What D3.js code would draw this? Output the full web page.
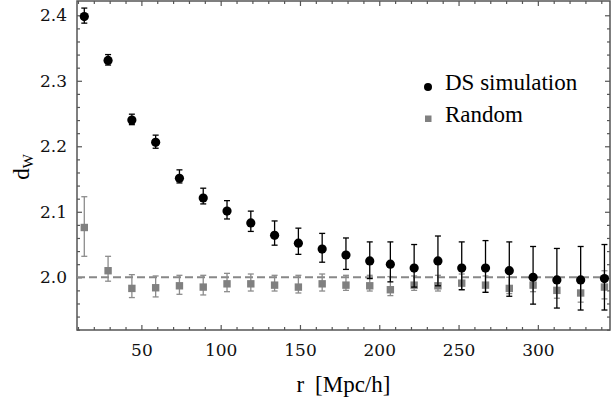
<!DOCTYPE html>
<html>
<head>
<meta charset="utf-8">
<script src="https://cdn.jsdelivr.net/npm/d3@7"></script>
<style>
  body { margin: 0; background: #fff; }
  svg { display: block; }
</style>
</head>
<body>
<div id="chart"></div>
<script>
// r values (Mpc/h) of each bin
const rValues = [14, 29, 44, 59, 74, 89, 104, 119, 134, 149, 164, 179, 194, 207, 222, 237, 252, 267, 282, 297, 312, 327, 342]

// DS simulation: value, upper and lower error
const dsValues = [2.398, 2.331, 2.240, 2.206, 2.151, 2.121, 2.101, 2.083, 2.064, 2.052, 2.043, 2.034, 2.025, 2.020, 2.014, 2.025, 2.014, 2.014, 2.010, 2.000, 1.996, 1.996, 1.998]
const dsUpper = [2.411, 2.340, 2.249, 2.217, 2.164, 2.136, 2.117, 2.101, 2.086, 2.075, 2.067, 2.060, 2.054, 2.054, 2.050, 2.063, 2.054, 2.056, 2.054, 2.047, 2.044, 2.047, 2.050]
const dsLower = [2.388, 2.324, 2.233, 2.197, 2.144, 2.112, 2.089, 2.070, 2.049, 2.035, 2.023, 2.012, 1.998, 1.993, 1.985, 1.987, 1.981, 1.977, 1.971, 1.959, 1.953, 1.950, 1.950]

// Random catalogue
const rndValues = [2.076, 2.010, 1.983, 1.984, 1.987, 1.985, 1.990, 1.990, 1.988, 1.985, 1.990, 1.988, 1.987, 1.981, 1.988, 1.987, 1.991, 1.988, 1.983, 1.988, 1.980, 1.976, 1.985]
const rndUpper = [2.123, 2.032, 2.004, 2.002, 2.003, 2.003, 2.006, 2.005, 2.003, 2.003, 2.005, 2.003, 2.003, 2.001, 2.002, 2.003, 2.005, 2.002, 2.000, 2.003, 2.000, 2.000, 2.010]
const rndLower = [2.032, 1.994, 1.969, 1.970, 1.974, 1.973, 1.978, 1.979, 1.979, 1.976, 1.979, 1.980, 1.979, 1.972, 1.980, 1.979, 1.981, 1.977, 1.975, 1.978, 1.968, 1.962, 1.967]

const xTicks = [50, 100, 150, 200, 250, 300]
const yTicks = [2.0, 2.1, 2.2, 2.3, 2.4]
const referenceLevel = 2.0

const legendLabels = ['DS simulation', 'Random']

const dimension = {
    width: 615,
    height: 403,
    left: 77,
    right: 610,
    top: 1,
    bottom: 330
}

const svg = d3.select('#chart')
    .append('svg')
    .attr('width', dimension.width)
    .attr('height', dimension.height)

// scales
const xScale = d3.scaleLinear()
    .domain([9.4, 345.5])
    .range([dimension.left, dimension.right])

const yScale = d3.scaleLinear()
    .domain([1.9195, 2.4218])
    .range([dimension.bottom, dimension.top])

const frameColor = '#555'
const tickFont = "'DejaVu Serif', serif"
const textFont = "'Liberation Serif', 'Times New Roman', serif"

// minor ticks
const xMinor = d3.range(10, 346, 10).filter(v => v % 50 !== 0)
const yMinor = d3.range(1.92, 2.42, 0.02).filter(v => Math.abs(v * 10 - Math.round(v * 10)) > 0.01)

function styleAxis(g) {
    g.select('.domain').remove()
    g.selectAll('.tick line').attr('stroke', frameColor).attr('stroke-width', 1.2)
    g.selectAll('.tick text')
        .attr('fill', '#111')
        .style('font-family', tickFont)
        .style('font-size', '17px')
}

// bottom axis
svg.append('g')
    .attr('transform', `translate(0, ${dimension.bottom})`)
    .call(d3.axisBottom(xScale).tickValues(xTicks).tickSizeInner(-5).tickSizeOuter(0).tickPadding(14).tickFormat(d3.format('d')))
    .call(styleAxis)
svg.append('g')
    .attr('transform', `translate(0, ${dimension.bottom})`)
    .call(d3.axisBottom(xScale).tickValues(xMinor).tickSizeInner(-3).tickSizeOuter(0).tickFormat(''))
    .call(styleAxis)

// top axis (ticks only)
svg.append('g')
    .attr('transform', `translate(0, ${dimension.top})`)
    .call(d3.axisTop(xScale).tickValues(xTicks).tickSizeInner(-5).tickSizeOuter(0).tickFormat(''))
    .call(styleAxis)
svg.append('g')
    .attr('transform', `translate(0, ${dimension.top})`)
    .call(d3.axisTop(xScale).tickValues(xMinor).tickSizeInner(-3).tickSizeOuter(0).tickFormat(''))
    .call(styleAxis)

// left axis
svg.append('g')
    .attr('transform', `translate(${dimension.left}, 0)`)
    .call(d3.axisLeft(yScale).tickValues(yTicks).tickSizeInner(-5).tickSizeOuter(0).tickPadding(10).tickFormat(d3.format('.1f')))
    .call(styleAxis)
svg.append('g')
    .attr('transform', `translate(${dimension.left}, 0)`)
    .call(d3.axisLeft(yScale).tickValues(yMinor).tickSizeInner(-3).tickSizeOuter(0).tickFormat(''))
    .call(styleAxis)

// right axis (ticks only)
svg.append('g')
    .attr('transform', `translate(${dimension.right}, 0)`)
    .call(d3.axisRight(yScale).tickValues(yTicks).tickSizeInner(-5).tickSizeOuter(0).tickFormat(''))
    .call(styleAxis)
svg.append('g')
    .attr('transform', `translate(${dimension.right}, 0)`)
    .call(d3.axisRight(yScale).tickValues(yMinor).tickSizeInner(-3).tickSizeOuter(0).tickFormat(''))
    .call(styleAxis)

// frame
svg.append('rect')
    .attr('x', dimension.left)
    .attr('y', dimension.top)
    .attr('width', dimension.right - dimension.left)
    .attr('height', dimension.bottom - dimension.top)
    .attr('fill', 'none')
    .attr('stroke', frameColor)
    .attr('stroke-width', 1.5)

// dashed reference line
svg.append('line')
    .attr('x1', dimension.left)
    .attr('x2', dimension.right)
    .attr('y1', yScale(referenceLevel))
    .attr('y2', yScale(referenceLevel))
    .attr('stroke', '#888')
    .attr('stroke-width', 2)
    .attr('stroke-dasharray', '8,4')

const dsData = rValues.map((r, i) => ({ r, v: dsValues[i], hi: dsUpper[i], lo: dsLower[i] }))
const rndData = rValues.map((r, i) => ({ r, v: rndValues[i], hi: rndUpper[i], lo: rndLower[i] }))

function drawErrors(data, color) {
    const g = svg.append('g').attr('stroke', color).attr('stroke-width', 1.3)
    g.selectAll('line.bar')
        .data(data)
        .join('line')
        .attr('class', 'bar')
        .attr('x1', d => xScale(d.r))
        .attr('x2', d => xScale(d.r))
        .attr('y1', d => yScale(d.lo))
        .attr('y2', d => yScale(d.hi))
    g.selectAll('line.capHi')
        .data(data)
        .join('line')
        .attr('class', 'capHi')
        .attr('x1', d => xScale(d.r) - 3)
        .attr('x2', d => xScale(d.r) + 3)
        .attr('y1', d => yScale(d.hi))
        .attr('y2', d => yScale(d.hi))
    g.selectAll('line.capLo')
        .data(data)
        .join('line')
        .attr('class', 'capLo')
        .attr('x1', d => xScale(d.r) - 3)
        .attr('x2', d => xScale(d.r) + 3)
        .attr('y1', d => yScale(d.lo))
        .attr('y2', d => yScale(d.lo))
}

// random: grey squares
drawErrors(rndData, '#8c8c8c')
svg.append('g')
    .selectAll('rect')
    .data(rndData)
    .join('rect')
    .attr('x', d => xScale(d.r) - 3.7)
    .attr('y', d => yScale(d.v) - 3.7)
    .attr('width', 7.4)
    .attr('height', 7.4)
    .attr('fill', '#808080')

// DS simulation: black dots
drawErrors(dsData, '#000')
svg.append('g')
    .selectAll('circle')
    .data(dsData)
    .join('circle')
    .attr('cx', d => xScale(d.r))
    .attr('cy', d => yScale(d.v))
    .attr('r', 4.6)
    .attr('fill', '#000')

// legend
const legend = svg.append('g')
legend.append('circle')
    .attr('cx', 428)
    .attr('cy', 87)
    .attr('r', 4)
    .attr('fill', '#000')
legend.append('rect')
    .attr('x', 425)
    .attr('y', 115.5)
    .attr('width', 6.5)
    .attr('height', 6.5)
    .attr('fill', '#808080')
legend.selectAll('text')
    .data(legendLabels)
    .join('text')
    .attr('x', 445)
    .attr('y', (d, i) => 90 + i * 32)
    .text(d => d)
    .style('font-family', textFont)
    .style('font-size', '23px')
    .attr('fill', '#000')

// axis labels
svg.append('text')
    .attr('x', (dimension.left + dimension.right) / 2)
    .attr('y', 392)
    .attr('text-anchor', 'middle')
    .style('font-family', textFont)
    .style('font-size', '23px')
    .style('word-spacing', '5px')
    .text('r [Mpc/h]')

const yLabel = svg.append('text')
    .attr('transform', 'translate(29, 167) rotate(-90)')
    .attr('text-anchor', 'middle')
    .style('font-family', textFont)
    .style('font-size', '23px')
yLabel.append('tspan').text('d')
yLabel.append('tspan')
    .attr('dy', 4)
    .style('font-size', '15px')
    .text('W')
</script>
</body>
</html>
